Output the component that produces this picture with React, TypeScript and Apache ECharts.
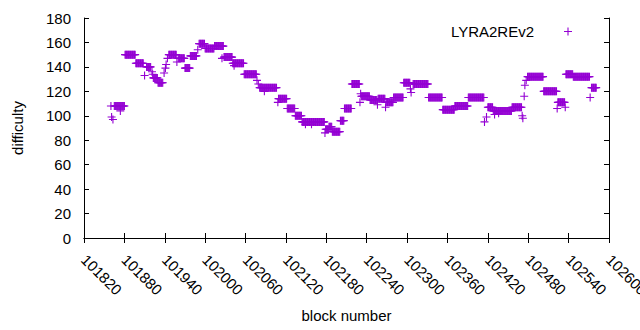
import React, { useEffect, useRef } from "react";
import * as echarts from "echarts";

// Runs of constant difficulty: [start block, end block, value]
const runStart = [
  101860, 101861, 101863, 101865, 101874, 101881, 101897, 101910, 101913, 101921,
  101922, 101923, 101930, 101939, 101941, 101942, 101944, 101946, 101958, 101960,
  101970, 101978, 101989, 101991, 102000, 102014, 102025, 102028, 102041, 102043,
  102058, 102077, 102079, 102081, 102088, 102108, 102109, 102122, 102134, 102144,
  102149, 102158, 102178, 102179, 102184, 102189, 102201, 102207, 102218, 102230,
  102231, 102232, 102245, 102256, 102257, 102268, 102269, 102280, 102295, 102305,
  102306, 102309, 102332, 102353, 102371, 102391, 102415, 102418, 102420, 102428,
  102430, 102436, 102456, 102471, 102472, 102474, 102475, 102477, 102479, 102503,
  102523, 102524, 102535, 102536, 102547, 102572, 102574,
];
const runEnd = [
  101860, 101861, 101863, 101880, 101874, 101896, 101908, 101910, 101919, 101921,
  101922, 101929, 101937, 101939, 101941, 101942, 101944, 101957, 101958, 101969,
  101977, 101987, 101989, 101999, 102013, 102027, 102025, 102040, 102057, 102043,
  102076, 102077, 102079, 102106, 102088, 102108, 102121, 102133, 102143, 102177,
  102149, 102158, 102178, 102183, 102188, 102200, 102206, 102217, 102229, 102230,
  102231, 102244, 102255, 102256, 102267, 102268, 102279, 102294, 102304, 102305,
  102306, 102331, 102352, 102370, 102390, 102414, 102415, 102418, 102427, 102455,
  102430, 102436, 102470, 102471, 102472, 102474, 102475, 102477, 102502, 102522,
  102523, 102534, 102535, 102546, 102571, 102572, 102581,
];
const runValue = [
  108, 99, 97, 108, 104, 150, 143, 133, 140, 136,
  134, 131, 127, 135, 139, 142, 147, 150, 144, 147,
  139, 149, 154, 159, 155, 157, 147, 148, 143, 141,
  134, 129, 126, 123, 120, 111, 114, 106, 100, 95,
  93, 93, 86, 89, 91, 87, 96, 106, 126, 111,
  118, 116, 113, 109, 114, 107, 111, 115, 127, 122,
  119, 126, 115, 105, 108, 115, 95, 99, 107, 104,
  101, 102, 107, 100, 98, 116, 125, 129, 132, 120,
  106, 111, 107, 134, 132, 115, 123,
];

const seriesName = "LYRA2REv2";
const xMin = 101820;
const xMax = 102600;
const xStep = 60;
const yMin = 0;
const yMax = 180;
const yStep = 20;

const plusPath =
  "path://M0,3.45L8,3.45L8,4.55L0,4.55Z M3.45,0L4.55,0L4.55,8L3.45,8Z";

function buildPoints(): [number, number][] {
  const pts: [number, number][] = [];
  for (let i = 0; i < runStart.length; i++) {
    for (let b = runStart[i]; b <= runEnd[i]; b++) {
      pts.push([b, runValue[i]]);
    }
  }
  return pts;
}

export default function App() {
  const ref = useRef<HTMLDivElement>(null);
  useEffect(() => {
    if (!ref.current) return;
    const chart = echarts.init(ref.current, undefined, { renderer: "svg" });
    const font = "Liberation Sans, Arial, sans-serif";
    const color = "#9400d3";
    const axisCommon = {
      axisLine: { show: true, lineStyle: { color: "#000", width: 1 } },
      axisTick: { show: true, inside: true, length: 5, lineStyle: { color: "#000" } },
      splitLine: { show: false },
    };
    chart.setOption({
      animation: false,
      backgroundColor: "#fff",
      textStyle: { fontFamily: font },
      grid: {
        left: 84,
        right: 31,
        top: 18,
        bottom: 92,
        containLabel: false,
        outerBoundsMode: "none",
      },
      legend: {
        data: [seriesName],
        right: 63,
        top: 19,
        align: "right",
        icon: plusPath,
        itemWidth: 8,
        itemHeight: 8,
        itemGap: 0,
        textStyle: {
          fontFamily: font,
          fontSize: 15,
          color: "#000",
          padding: [0, 25, 0, 0],
        },
      },
      xAxis: [
        {
          type: "value",
          min: xMin,
          max: xMax,
          interval: xStep,
          position: "bottom",
          ...axisCommon,
          axisLabel: {
            show: true,
            rotate: -45,
            margin: 19,
            interval: 0,
            showMaxLabel: true,
            showMinLabel: true,
            hideOverlap: false,
            formatter: (v: number) => String(v),
            fontFamily: font,
            fontSize: 15,
            color: "#000",
          },
          name: "block number",
          nameLocation: "middle",
          nameGap: 70,
          nameTextStyle: { fontFamily: font, fontSize: 15, color: "#000" },
        },
        {
          type: "value",
          min: xMin,
          max: xMax,
          interval: xStep,
          position: "top",
          ...axisCommon,
          axisLabel: { show: false },
        },
      ],
      yAxis: [
        {
          type: "value",
          min: yMin,
          max: yMax,
          interval: yStep,
          position: "left",
          ...axisCommon,
          axisLabel: {
            show: true,
            margin: 13,
            fontFamily: font,
            fontSize: 15,
            color: "#000",
          },
          name: "difficulty",
          nameLocation: "middle",
          nameGap: 59,
          nameTextStyle: { fontFamily: font, fontSize: 15, color: "#000" },
        },
        {
          type: "value",
          min: yMin,
          max: yMax,
          interval: yStep,
          position: "right",
          ...axisCommon,
          axisLabel: { show: false },
        },
      ],
      series: [
        {
          name: seriesName,
          type: "scatter",
          xAxisIndex: 0,
          yAxisIndex: 0,
          data: buildPoints(),
          symbol: plusPath,
          symbolSize: 8,
          itemStyle: { color, opacity: 1 },
          emphasis: { disabled: true },
        },
      ],
    });
    return () => chart.dispose();
  }, []);
  return (
    <div
      ref={ref}
      style={{ position: "fixed", left: 0, top: 0, width: 640, height: 330 }}
    />
  );
}
